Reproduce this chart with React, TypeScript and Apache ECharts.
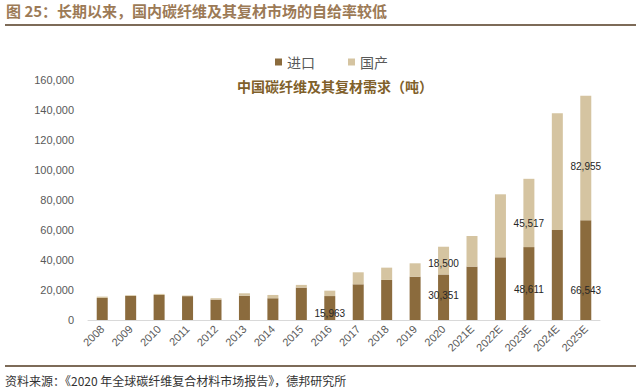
import React, { useEffect, useRef } from "react";
import * as echarts from "echarts";

const categories = ["2008", "2009", "2010", "2011", "2012", "2013", "2014", "2015", "2016", "2017", "2018", "2019", "2020", "2021E", "2022E", "2023E", "2024E", "2025E"];
const importValues = [14700, 16000, 16700, 15900, 13600, 16200, 14500, 21600, 15963, 23800, 26700, 28900, 30351, 35600, 41800, 48611, 60000, 66543];
const domesticValues = [900, 500, 700, 400, 900, 1600, 2200, 1800, 3600, 8000, 8200, 8900, 18500, 20400, 42000, 45517, 77800, 82955];
const importLabelOffsets: Record<number, number> = { 8: 5, 12: -2, 15: 6, 17: 20 };
const domesticLabelOffsets: Record<number, number> = { 12: 3, 15: 11, 17: 9 };
const yTicks = { min: 0, max: 160000, interval: 20000 };

const seriesNames = ["进口", "国产"];
const titleText = "图 25：长期以来，国内碳纤维及其复材市场的自给率较低";
const subTitleText = "中国碳纤维及其复材需求（吨）";
const sourceText = "资料来源：《2020 年全球碳纤维复合材料市场报告》，德邦研究所";

const DARK = "#8B6B3D";
const LIGHT = "#D5C4A1";
const CJK = "'Noto Sans CJK SC', 'Noto Sans', sans-serif";

function fmt(v: number) {
  return v.toLocaleString("en-US");
}

function buildData(values: number[], offsets: Record<number, number>) {
  return values.map((v, i) => {
    if (offsets[i] === undefined) return v;
    return {
      value: v,
      label: {
        show: true,
        position: "inside",
        offset: [0, offsets[i]],
        formatter: (p: any) => fmt(p.value),
        color: "#262626",
        fontSize: 10,
        fontFamily: "'Liberation Sans', Arial, sans-serif",
      },
    };
  });
}

export default function App() {
  const ref = useRef<HTMLDivElement>(null);
  useEffect(() => {
    document.body.style.margin = "0";
    if (!ref.current) return;
    const chart = echarts.init(ref.current, undefined, { renderer: "svg" });
    chart.setOption({
      animation: false,
      backgroundColor: "#ffffff",
      textStyle: { fontFamily: CJK },
      legend: {
        data: seriesNames,
        left: 270,
        top: 50,
        itemWidth: 7,
        itemHeight: 7,
        itemGap: 33,
        icon: "rect",
        textStyle: { fontSize: 14, color: "#595959", fontFamily: CJK },
      },
      grid: { left: 88, right: 40, top: 80, bottom: 72 },
      xAxis: {
        type: "category",
        data: categories,
        axisLine: { lineStyle: { color: "#D9D9D9" } },
        axisTick: { show: false },
        axisLabel: {
          rotate: 45,
          interval: 0,
          fontSize: 11,
          color: "#595959",
          margin: 7,
          fontFamily: "'Liberation Sans', Arial, sans-serif",
        },
      },
      yAxis: {
        type: "value",
        min: yTicks.min,
        max: yTicks.max,
        interval: yTicks.interval,
        splitLine: { show: false },
        axisLine: { show: false },
        axisTick: { show: false },
        axisLabel: {
          fontSize: 11,
          color: "#595959",
          margin: 14,
          formatter: (v: number) => fmt(v),
          fontFamily: "'Liberation Sans', Arial, sans-serif",
        },
      },
      series: [
        {
          name: seriesNames[0],
          type: "bar",
          stack: "total",
          barWidth: 11,
          itemStyle: { color: DARK },
          data: buildData(importValues, importLabelOffsets),
        },
        {
          name: seriesNames[1],
          type: "bar",
          stack: "total",
          barWidth: 11,
          itemStyle: { color: LIGHT },
          data: buildData(domesticValues, domesticLabelOffsets),
        },
      ],
      graphic: [
        {
          type: "text",
          left: 6,
          top: 3,
          style: {
            text: titleText,
            font: `bold 15px ${CJK}`,
            fill: "#9C7A56",
          },
        },
        {
          type: "line",
          shape: { x1: 5, y1: 25, x2: 636, y2: 25 },
          style: { stroke: "#7D6B58", lineWidth: 2 },
        },
        {
          type: "text",
          left: 237,
          top: 79,
          style: {
            text: subTitleText,
            font: `bold 14px ${CJK}`,
            fill: "#80602A",
          },
        },
        {
          type: "line",
          shape: { x1: 5, y1: 366, x2: 636, y2: 366 },
          style: { stroke: "#7D6B58", lineWidth: 2 },
        },
        {
          type: "text",
          left: 5,
          top: 374,
          style: {
            text: sourceText,
            font: `12px ${CJK}`,
            fill: "#333333",
          },
        },
      ],
    });
    return () => chart.dispose();
  }, []);
  return <div ref={ref} style={{ width: 640, height: 392 }} />;
}
